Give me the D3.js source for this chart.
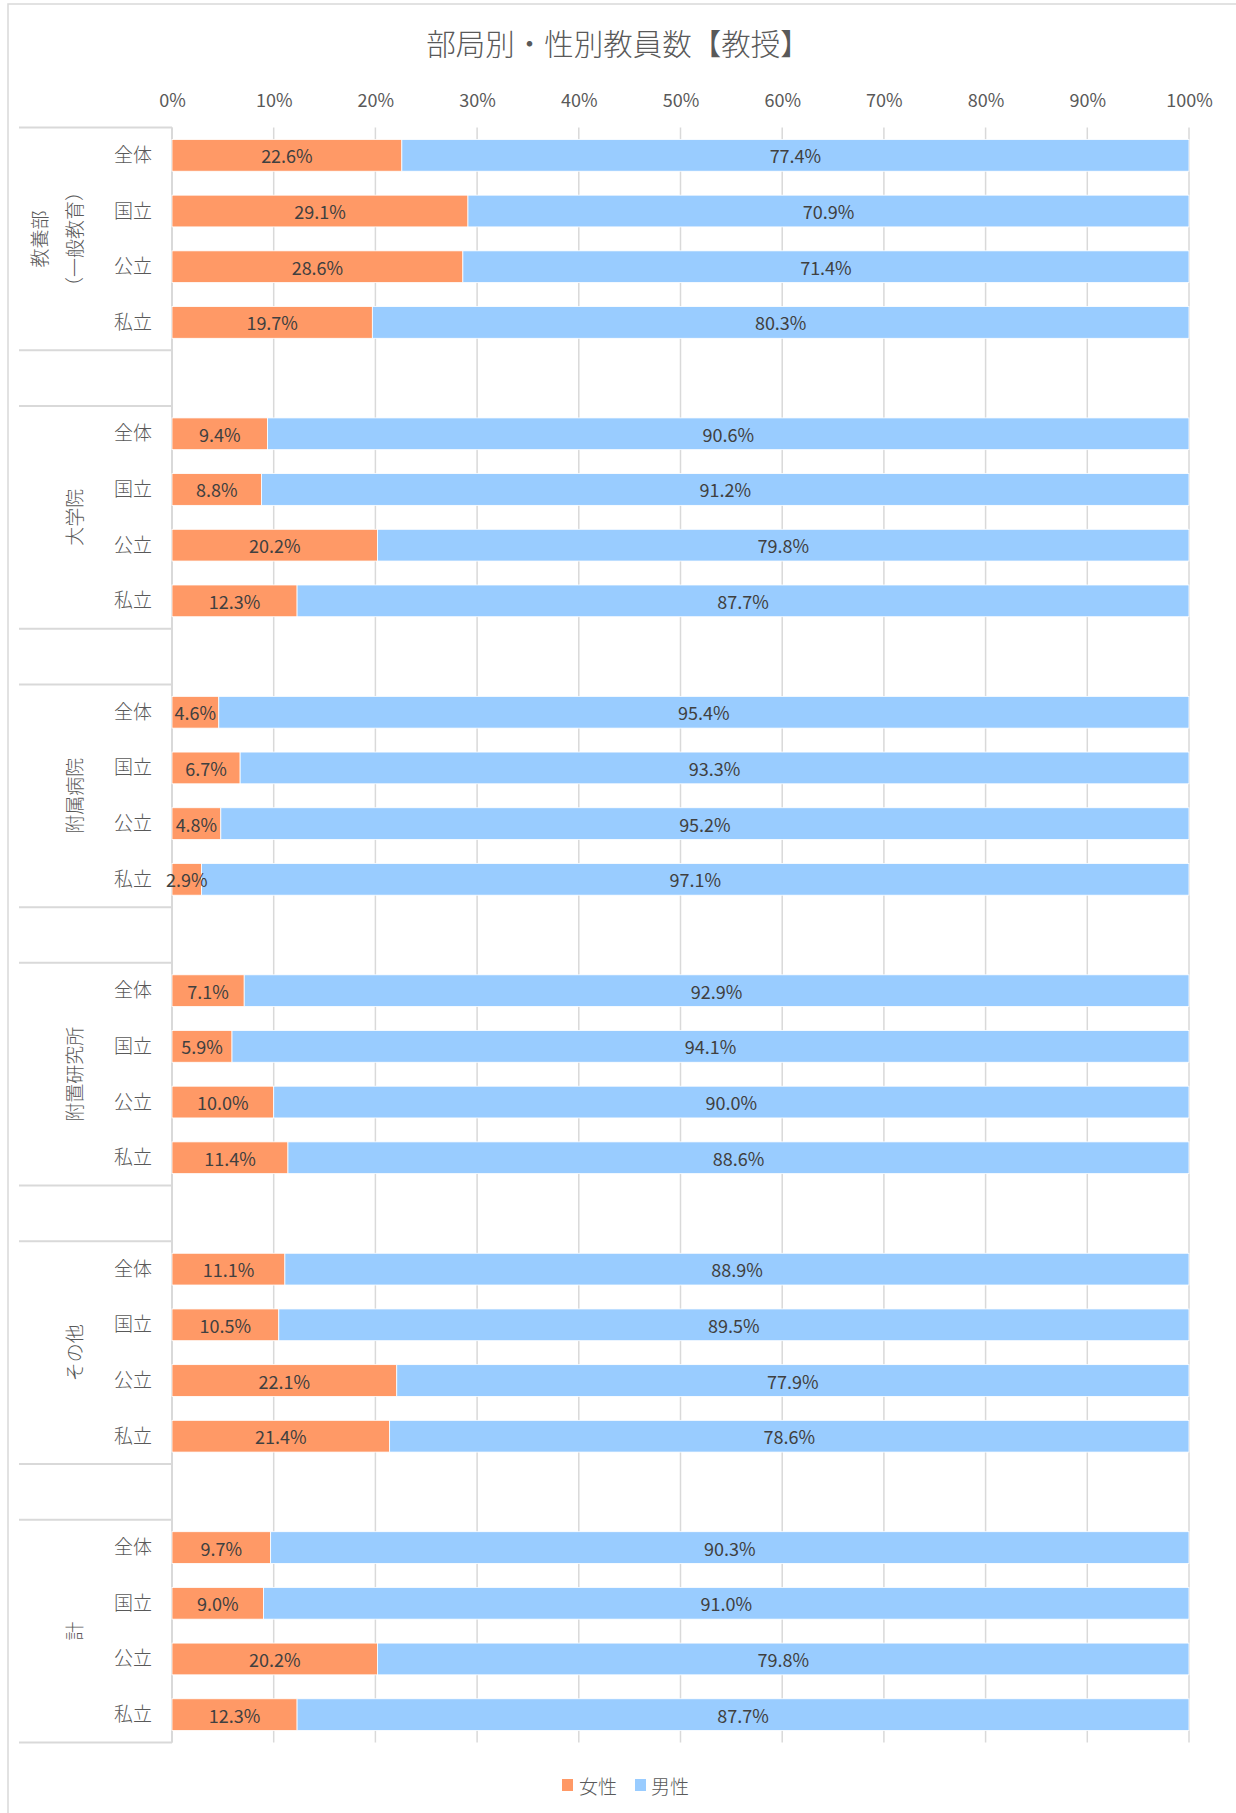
<!DOCTYPE html>
<html>
<head>
<meta charset="utf-8">
<script src="https://cdn.jsdelivr.net/npm/d3@7"></script>
<style>
  html, body { margin: 0; padding: 0; background: #fff; }
  svg { display: block; }
  text { font-family: "Noto Sans CJK JP", "Noto Sans", sans-serif; }
</style>
</head>
<body>
<svg id="chart" width="1236" height="1813"></svg>
<script>
// ---------- data ----------
const title = "部局別・性別教員数【教授】";
const groups = [["教養部", "（一般教育）"], ["大学院"], ["附属病院"], ["附置研究所"], ["その他"], ["計"]];
const subcats = ["全体", "国立", "公立", "私立"];
const seriesNames = ["女性", "男性"];
const femaleValues = [
  22.6, 29.1, 28.6, 19.7,
  9.4, 8.8, 20.2, 12.3,
  4.6, 6.7, 4.8, 2.9,
  7.1, 5.9, 10.0, 11.4,
  11.1, 10.5, 22.1, 21.4,
  9.7, 9.0, 20.2, 12.3
];
const maleValues = [
  77.4, 70.9, 71.4, 80.3,
  90.6, 91.2, 79.8, 87.7,
  95.4, 93.3, 95.2, 97.1,
  92.9, 94.1, 90.0, 88.6,
  88.9, 89.5, 77.9, 78.6,
  90.3, 91.0, 79.8, 87.7
];
const tickValues = [0, 10, 20, 30, 40, 50, 60, 70, 80, 90, 100];

// ---------- layout ----------
const colors = { "女性": "#FF9966", "男性": "#99CCFF" };
const svg = d3.select("#chart");
const plotLeft = 172, plotRight = 1189, plotTop = 127.5, plotBottom = 1742.5;

// chart frame (only left & top edges visible)
svg.append("rect").attr("x", 8).attr("y", 4).attr("width", 1240).attr("height", 1820)
  .attr("fill", "#fff").attr("stroke", "#d9d9d9").attr("stroke-width", 1.5);

// rows: 4 subcats per group + blank slot between groups
const rows = [];
groups.forEach((g, gi) => {
  subcats.forEach((s, si) => rows.push({ key: gi + "-" + si, g: gi, s: si, idx: gi * 4 + si }));
  if (gi < groups.length - 1) rows.push({ key: "blank-" + gi, blank: true });
});

const x = d3.scaleLinear().domain([0, 100]).range([plotLeft, plotRight]);
const pad = 0.43;
const y = d3.scaleBand().domain(rows.map(r => r.key)).range([plotTop, plotBottom])
  .paddingInner(pad).paddingOuter(pad / 2);
const step = y.step();

// title
svg.append("text").attr("x", 618).attr("y", 42).attr("text-anchor", "middle")
  .attr("dominant-baseline", "central").attr("font-size", 29.5).attr("font-weight", 300)
  .attr("fill", "#595959").text(title);

// gridlines
svg.append("g").selectAll("line").data(tickValues).join("line")
  .attr("x1", d => x(d)).attr("x2", d => x(d))
  .attr("y1", plotTop).attr("y2", plotBottom)
  .attr("stroke", "#d9d9d9").attr("stroke-width", 1.5);

// top axis labels
const axis = d3.axisTop(x).tickValues(tickValues).tickFormat(d => d + "%").tickSize(0).tickPadding(0);
const ax = svg.append("g").attr("transform", `translate(0,${plotTop})`).call(axis);
ax.select(".domain").remove();
ax.selectAll("text").attr("y", 100.5 - plotTop).attr("dy", "0.35em")
  .attr("font-size", 18).attr("fill", "#595959")
  .attr("font-family", "'Noto Sans CJK JP', sans-serif");

// category table lines
const tbl = svg.append("g");
groups.forEach((g, gi) => {
  const first = y(gi + "-0") - step * pad / 2;
  const last = y(gi + "-3") + y.bandwidth() + step * pad / 2;
  [first, last].forEach(yy => {
    tbl.append("line").attr("x1", 19).attr("x2", plotLeft).attr("y1", yy).attr("y2", yy)
      .attr("stroke", "#d9d9d9").attr("stroke-width", 2);
  });
  // group label (rotated)
  const cy = (first + last) / 2;
  const lineXs = g.length === 2 ? [38, 73] : [73];
  g.forEach((t, li) => {
    svg.append("text").attr("transform", `translate(${lineXs[li]},${cy}) rotate(-90)`)
      .attr("text-anchor", "middle").attr("dominant-baseline", "central")
      .attr("font-size", 19).attr("font-weight", 300).attr("fill", "#595959").text(t);
  });
});
// axis (table right) line
svg.append("line").attr("x1", plotLeft).attr("x2", plotLeft).attr("y1", plotTop).attr("y2", plotBottom)
  .attr("stroke", "#d9d9d9").attr("stroke-width", 2);

// subcategory labels
const dataRows = rows.filter(r => !r.blank);
svg.append("g").selectAll("text").data(dataRows).join("text")
  .attr("x", 152).attr("y", d => y(d.key) + y.bandwidth() / 2 - 2)
  .attr("text-anchor", "end").attr("dominant-baseline", "central")
  .attr("font-size", 19).attr("font-weight", 300).attr("fill", "#595959").text(d => subcats[d.s]);

// stacked bars
const stackData = dataRows.map(r => ({ key: r.key, "女性": femaleValues[r.idx], "男性": maleValues[r.idx] }));
const stacked = d3.stack().keys(seriesNames)(stackData);
const barG = svg.append("g");
stacked.forEach(layer => {
  barG.append("g").selectAll("rect").data(layer).join("rect")
    .attr("x", d => x(d[0])).attr("width", d => x(d[1]) - x(d[0]))
    .attr("y", d => y(d.data.key)).attr("height", y.bandwidth())
    .attr("fill", colors[layer.key]).attr("stroke", "#fff").attr("stroke-width", 0.8);
});
stacked.forEach(layer => {
  barG.append("g").selectAll("text").data(layer).join("text")
    .attr("x", d => x((d[0] + d[1]) / 2)).attr("y", d => y(d.data.key) + y.bandwidth() / 2)
    .attr("text-anchor", "middle").attr("dominant-baseline", "central")
    .attr("font-size", 18).attr("fill", "#404040")
    .text(d => d3.format(".1f")(d.data[layer.key]) + "%");
});

// legend
const legend = svg.append("g");
const legItems = [{ name: "女性", sx: 562, tx: 579 }, { name: "男性", sx: 635, tx: 651 }];
legItems.forEach(it => {
  legend.append("rect").attr("x", it.sx).attr("y", 1779).attr("width", 11).attr("height", 12)
    .attr("fill", colors[it.name]);
  legend.append("text").attr("x", it.tx).attr("y", 1785).attr("dominant-baseline", "central")
    .attr("font-size", 19).attr("font-weight", 300).attr("fill", "#595959").text(it.name);
});
</script>
</body>
</html>
